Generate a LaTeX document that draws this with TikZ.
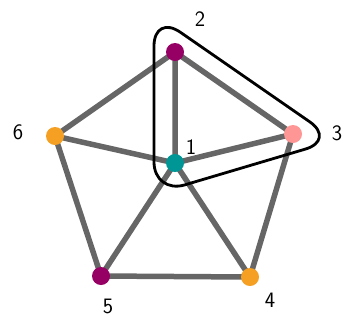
\documentclass[tikz,border=0pt]{standalone}
\usepackage{tikz}
\usetikzlibrary{positioning}
\definecolor{tealv}{RGB}{0,150,150}
\definecolor{plumv}{RGB}{150,0,100}
\definecolor{pinkv}{RGB}{255,150,150}
\definecolor{orangev}{RGB}{245,160,35}
\definecolor{edgegray}{RGB}{102,102,102}
\begin{document}
\begin{tikzpicture}[x=1pt,y=-1pt,
  vtx/.style={circle,fill,inner sep=0pt,minimum size=18pt},
  edge/.style={line width=5.5pt,edgegray},
  blob/.style={line width=2.8pt,black,rounded corners=32pt},
  lbl/.style={font=\sffamily\fontsize{22}{26}\selectfont}]
  \useasboundingbox (0,0) rectangle (344,322);

  % ===== vertex positions =====
  \coordinate (v1) at (175,163);
  \coordinate (v2) at (175,52);
  \coordinate (v3) at (293,134);
  \coordinate (v4) at (250,277);
  \coordinate (v5) at (101,276);
  \coordinate (v6) at (55,136);

  % ===== edges =====
  \draw[edge] (v2)--(v6) (v2)--(v1) (v2)--(v3)
              (v6)--(v1) (v1)--(v3) (v6)--(v5)
              (v1)--(v5) (v1)--(v4) (v3)--(v4)
              (v5)--(v4);

  % ===== vertices =====
  \node[vtx,tealv]   (n1) at (v1) {};
  \node[vtx,plumv]   (n2) at (v2) {};
  \node[vtx,pinkv]   (n3) at (v3) {};
  \node[vtx,orangev] (n4) at (v4) {};
  \node[vtx,plumv]   (n5) at (v5) {};
  \node[vtx,orangev] (n6) at (v6) {};

  % ===== group around 1,2,3 =====
  \draw[blob] (154,100)--(154,14)--(336,140)--(154,194)--cycle;

  % ===== labels =====
  \node[lbl] (l1) at (191,147) {1};
  \node[lbl] (l2) at (200,19)  {2};
  \node[lbl] (l3) at (337,133) {3};
  \node[lbl] (l4) at (270,300) {4};
  \node[lbl] (l5) at (108,306) {5};
  \node[lbl] (l6) at (18,132)  {6};
\end{tikzpicture}
\end{document}
